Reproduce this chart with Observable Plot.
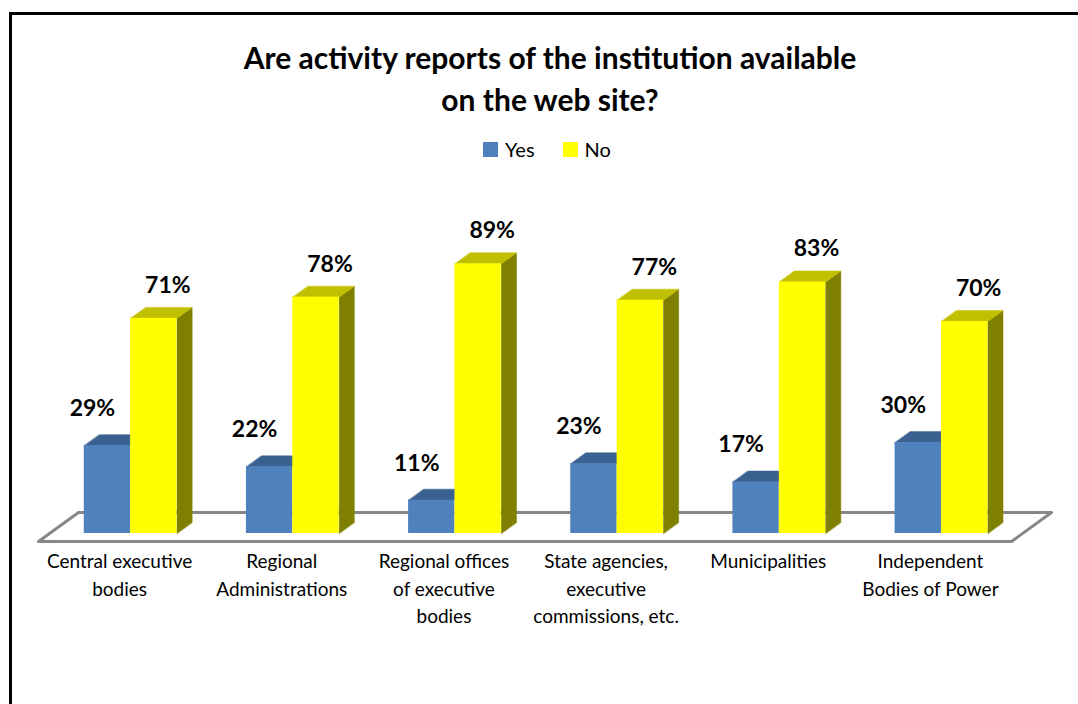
<!DOCTYPE html>
<html>
<head>
<meta charset="utf-8">
<script src="https://cdn.jsdelivr.net/npm/d3@7"></script>
<script src="https://cdn.jsdelivr.net/npm/@observablehq/plot@0.6"></script>
<style>
  html, body { margin: 0; padding: 0; background: #fff; }
  body { position: relative; width: 1078px; height: 704px; overflow: hidden; font-family: Lato, "Open Sans", sans-serif; }
  #frame { position: absolute; left: 9px; top: 12px; width: 1100px; height: 800px; border-left: 3px solid #000; border-top: 3px solid #000; }
  #title { position: absolute; left: 0; top: 36px; width: 1100px; text-align: center; font-weight: 700; font-size: 30px; line-height: 42px; color: #000; }
  #legend { position: absolute; left: 0; top: 137px; width: 1094px; display: flex; justify-content: center; gap: 28px; font-size: 20px; color: #000; }
  #legend .item { display: flex; align-items: center; gap: 7px; }
  #legend .sw { width: 15px; height: 15px; display: inline-block; }
  #chart { position: absolute; left: 0; top: 170px; }
</style>
</head>
<body>
<div id="frame"></div>
<div id="title">Are activity reports of the institution available<br>on the web site?</div>
<div id="legend"></div>
<div id="chart"></div>
<script>
// ---- data ----
const categories = [
  "Central executive\nbodies",
  "Regional\nAdministrations",
  "Regional offices\nof executive\nbodies",
  "State agencies,\nexecutive\ncommissions, etc.",
  "Municipalities",
  "Independent\nBodies of Power"
];
const seriesNames = ["Yes", "No"];
const yesValues = [29, 22, 11, 23, 17, 30];
const noValues = [71, 78, 89, 77, 83, 70];

// ---- styles ----
const frontColors = ["#4F81BD", "#FFFF00"];
const topColors = ["#3B6191", "#C0C000"];
const sideColors = ["#2E4C72", "#808000"];

// ---- 3D geometry (in data units) ----
const BAR_W = 0.286;          // bar width in category units
const DX = 40 / 162.17;       // horizontal shift per unit depth
const DY = 29 / 3.03;         // vertical shift per unit depth (percent units)
const D0 = 0.276, D1 = 0.655; // bar front/back depth
const proj = (u, v, d) => ({x: u + d * DX, y: v + d * DY});

const seriesValues = [yesValues, noValues];
const fronts = [], tops = [], sides = [], labels = [];
seriesValues.forEach((vals, s) => {
  vals.forEach((v, i) => {
    const u0 = s === 0 ? i + 0.5 - BAR_W : i + 0.5;
    const u1 = u0 + BAR_W;
    fronts.push({s, x1: u0 + D0 * DX, x2: u1 + D0 * DX, y1: D0 * DY, y2: v + D0 * DY});
    const id = s + "-" + i;
    [proj(u0, v, D0), proj(u1, v, D0), proj(u1, v, D1), proj(u0, v, D1)]
      .forEach(p => tops.push({...p, id, s}));
    [proj(u1, 0, D0), proj(u1, v, D0), proj(u1, v, D1), proj(u1, 0, D1)]
      .forEach(p => sides.push({...p, id, s}));
    labels.push({s, x: (u0 + u1) / 2 + D0 * DX, y: v + D0 * DY, text: v + "%"});
  });
});
const floor = [proj(0, 0, 0), proj(6, 0, 0), proj(6, 0, 1), proj(0, 0, 1), proj(0, 0, 0)];
const catRows = categories.map((c, i) => ({x: i + 0.5, y: 0, text: c}));

// ---- legend ----
const legend = document.getElementById("legend");
seriesNames.forEach((n, s) => {
  const it = document.createElement("span");
  it.className = "item";
  it.innerHTML = `<span class="sw" style="background:${frontColors[s]}"></span><span>${n}</span>`;
  legend.appendChild(it);
});

// ---- plot ----
const chart = Plot.plot({
  width: 1078,
  height: 534,
  style: {fontFamily: "Lato, 'Open Sans', sans-serif", background: "transparent", overflow: "visible"},
  x: {type: "linear", domain: [0, 6], range: [38, 38 + 6 * 162.17], axis: null},
  y: {type: "linear", domain: [0, 100], range: [371, 371 - 303], axis: null},
  marks: [
    Plot.line(floor, {x: "x", y: "y", stroke: "#878787", strokeWidth: 3, fill: "#fff", curve: "linear"}),
    Plot.line(tops.filter(d => d.s === 0), {x: "x", y: "y", z: "id", curve: "linear-closed", fill: topColors[0], stroke: topColors[0], strokeWidth: 0.5}),
    Plot.rect(fronts.filter(d => d.s === 0), {x1: "x1", x2: "x2", y1: "y1", y2: "y2", fill: frontColors[0], inset: 0}),
    Plot.line(sides.filter(d => d.s === 1), {x: "x", y: "y", z: "id", curve: "linear-closed", fill: sideColors[1], stroke: sideColors[1], strokeWidth: 0.5}),
    Plot.line(tops.filter(d => d.s === 1), {x: "x", y: "y", z: "id", curve: "linear-closed", fill: topColors[1], stroke: topColors[1], strokeWidth: 0.5}),
    Plot.rect(fronts.filter(d => d.s === 1), {x1: "x1", x2: "x2", y1: "y1", y2: "y2", fill: frontColors[1], inset: 0}),
    Plot.text(labels.filter(d => d.s === 0), {x: "x", y: "y", text: "text", dx: -15, dy: -37, fontSize: 23, fontWeight: "bold", fill: "#000"}),
    Plot.text(labels.filter(d => d.s === 1), {x: "x", y: "y", text: "text", dx: 14, dy: -33, fontSize: 23, fontWeight: "bold", fill: "#000"}),
    Plot.text(catRows, {x: "x", y: "y", text: "text", lineAnchor: "top", dy: 7, lineHeight: 1.45, fontSize: 19, fill: "#000"})
  ]
});
document.getElementById("chart").appendChild(chart);
</script>
</body>
</html>
